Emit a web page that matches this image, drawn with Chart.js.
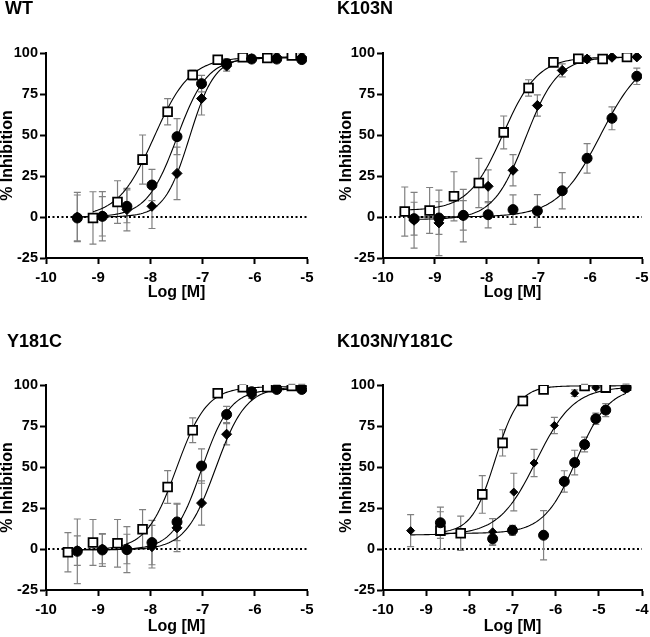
<!DOCTYPE html>
<html>
<head>
<meta charset="utf-8">
<script src="https://cdn.jsdelivr.net/npm/chart.js@4.4.0/dist/chart.umd.min.js"></script>
<style>
  html, body { margin: 0; padding: 0; background: #fff; }
  #wrap { position: relative; width: 650px; height: 637px; }
  canvas { position: absolute; }
</style>
</head>
<body>
<div id="wrap">
  <canvas id="pWT" width="325" height="318" style="left:0;top:0"></canvas>
  <canvas id="pK103N" width="325" height="318" style="left:325px;top:0"></canvas>
  <canvas id="pY181C" width="325" height="320" style="left:0;top:317px"></canvas>
  <canvas id="pDouble" width="325" height="320" style="left:325px;top:317px"></canvas>
</div>
<script>
// panel titles
const panelTitles = ['WT', 'K103N', 'Y181C', 'K103N/Y181C'];

// log concentrations (M)
const doseA = [-9.40, -8.92, -8.45, -7.97, -7.49, -7.02, -6.54, -6.06, -5.58, -5.10];
const doseB = [-9.58, -9.10, -8.63, -8.15, -7.67, -7.19, -6.71, -6.23, -5.76, -5.29];

// WT
const wtCircle = [-0.6, 0.4, 6.5, 19.5, 49, 81.3, 93.5, 96.3, 96.3, 96];
const wtCircleErr = [14, 12, 10, 9.5, 11, 5, 3, 2, 2, 2];
const wtDiamond = [0, 0.5, 4.5, 6.5, 26.6, 72.2, 92, 96.5, 97.5, 97.5];
const wtDiamondErr = [15, 15, 13, 13.5, 16, 10, 3, 2, 2, 2];
const wtSquare = [null, -0.6, 9.1, 35, 64.2, 86.6, 95.9, 97.4, 97, 98.5];
const wtSquareErr = [0, 16, 13, 15, 8, 3, 2, 2, 2, 1];

// K103N
const knCircle = [-1, -0.6, 1, 1.4, 4.5, 3.7, 16, 35.8, 60.2, 85.8];
const knCircleErr = [10, 10, 9, 8, 9, 10, 11, 9, 7, 5];
const knDiamond = [-2, -3.6, 0.8, 18.7, 28.5, 68, 89.4, 96.3, 97.4, 97.6];
const knDiamondErr = [17, 20, 16, 10, 9.5, 6.5, 4, 2, 1, 1];
const knSquare = [3.3, 4, 12.6, 20.7, 51.6, 78.7, 94.3, 96.5, 96.3, 97.6];
const knSquareErr = [15, 14, 15, 15, 10, 5, 2, 2, 2, 1];

// Y181C
const ycCircle = [-1.4, -0.6, -0.4, 3.9, 16.5, 50.6, 82, 95.9, 97.3, 97.3];
const ycCircleErr = [19.7, 10, 14, 13.5, 11.4, 10.5, 5, 2, 1.5, 1.5];
const ycDiamond = [-1, 0, 0, 1.4, 12.9, 28, 70, 93.9, 99, 99.4];
const ycDiamondErr = [9, 9, 9, 13, 14.5, 13.5, 6.5, 2, 1, 1];
const ycSquare = [-2, 4, 3.5, 12, 37.8, 72.4, 95, 98.6, 98.6, 99.4];
const ycSquareErr = [12, 14, 14.5, 12, 10, 7.5, 2, 1.5, 1, 1];

// K103N/Y181C
const dmCircleDose = [-8.67, -7.46, -7.00, -6.28, -5.80, -5.56, -5.33, -5.07, -4.84, -4.37];
const dmCircle = [16, 6.2, 11.4, 8.4, 41.2, 52.7, 63.7, 79.4, 84.7, 98.4];
const dmCircleErr = [9.5, 4, 3, 15, 6.5, 7.5, 4.5, 3.5, 4, 1];
const dmDiamondDose = [-9.36, -7.46, -6.97, -6.50, -6.03, -5.56, -5.07, -4.37];
const dmDiamond = [11.2, 10.5, 34.7, 52.4, 75.3, 95, 98.4, 99];
const dmDiamondErr = [9.7, 8, 11.5, 8.3, 5, 2, 1, 1];
const dmSquareDose = [-8.67, -8.20, -7.70, -7.23, -6.76, -6.28, -5.33, -4.84, -4.37];
const dmSquare = [11.2, 9.6, 33.3, 64.7, 90.2, 97.3, 99.4, 98.4, 99.6];
const dmSquareErr = [11.5, 10.5, 11.5, 8, 2, 2, 1, 1, 1];

// fitted curve parameters: [bottom, top, logIC50, hill]
const wtFits = { circle: [0, 97, -7.49, 1.5], diamond: [0, 97.5, -7.25, 1.8], square: [0, 97.5, -7.93, 1.25] };
const knFits = { circle: [0, 100, -5.8, 1.05], diamond: [-1.5, 97.5, -7.25, 1.4], square: [4, 97.5, -7.68, 1.3] };
const ycFits = { circle: [-0.5, 97.5, -7.02, 1.6], diamond: [-0.5, 99, -6.75, 1.5], square: [-0.5, 99, -7.5, 1.5] };
const dmFits = { circle: [9.5, 99, -5.52, 1.15], diamond: [8.5, 99, -6.45, 1.0], square: [9.5, 99.5, -7.4, 1.6] };

const FONT = "'Liberation Sans', Arial, sans-serif";
const NARROW = "'Liberation Sans Narrow', 'Arial Narrow', 'Liberation Sans', sans-serif";

Chart.defaults.font.family = NARROW;
Chart.defaults.font.weight = 'bold';
Chart.defaults.font.size = 14;
Chart.defaults.color = '#000';

function pts(xs, ys) {
  const out = [];
  xs.forEach(function (x, i) { if (ys[i] !== null) out.push({ x: x, y: ys[i] }); });
  return out;
}

function curve(xs, ys, p) {
  const used = xs.filter(function (x, i) { return ys[i] !== null; });
  const lo = Math.min.apply(null, used), hi = Math.max.apply(null, used);
  const out = [];
  for (let i = 0; i <= 120; i++) {
    const x = lo + (hi - lo) * i / 120;
    out.push({ x: x, y: p[0] + (p[1] - p[0]) / (1 + Math.pow(10, (p[2] - x) * p[3])) });
  }
  return out;
}

const errorBars = {
  id: 'errorBars',
  beforeDatasetsDraw(chart) {
    const ctx = chart.ctx, y = chart.scales.y, a = chart.chartArea;
    ctx.save();
    ctx.beginPath();
    ctx.rect(a.left, a.top - 5, a.right - a.left + 5, a.bottom - a.top + 5);
    ctx.clip();
    ctx.strokeStyle = '#808080';
    ctx.lineWidth = 1.2;
    chart.data.datasets.forEach(function (ds, i) {
      if (!ds.errors) return;
      const meta = chart.getDatasetMeta(i);
      meta.data.forEach(function (el, j) {
        const v = ds.data[j].y, e = ds.errors[j];
        if (!e) return;
        const top = y.getPixelForValue(v + e), bot = y.getPixelForValue(v - e);
        ctx.beginPath();
        ctx.moveTo(el.x, top); ctx.lineTo(el.x, bot);
        ctx.moveTo(el.x - 3.5, top); ctx.lineTo(el.x + 3.5, top);
        ctx.moveTo(el.x - 3.5, bot); ctx.lineTo(el.x + 3.5, bot);
        ctx.stroke();
      });
    });
    ctx.restore();
  }
};

const zeroLine = {
  id: 'zeroLine',
  beforeDatasetsDraw(chart) {
    const ctx = chart.ctx, a = chart.chartArea;
    const y0 = chart.scales.y.getPixelForValue(0);
    ctx.save();
    ctx.strokeStyle = '#000';
    ctx.lineWidth = 2;
    ctx.setLineDash([2, 2.5]);
    ctx.beginPath();
    ctx.moveTo(a.left + 2, y0);
    ctx.lineTo(a.right, y0);
    ctx.stroke();
    ctx.restore();
  }
};

const panelTitle = {
  id: 'panelTitle',
  afterDraw(chart, args, opts) {
    const ctx = chart.ctx;
    ctx.save();
    ctx.font = 'bold 18px ' + FONT;
    ctx.fillStyle = '#000';
    ctx.textBaseline = 'middle';
    ctx.fillText(opts.text, opts.x, opts.y);
    ctx.restore();
  }
};

function makePanel(id, title, titlePos, xMax, series, fits, box) {
  const datasets = [];
  const styles = {
    circle: { pointStyle: 'circle', pointRadius: 5, backgroundColor: '#000', borderColor: '#000', borderWidth: 1 },
    diamond: { pointStyle: 'rectRot', pointRadius: box.diamond, backgroundColor: '#000', borderColor: '#000', borderWidth: 1 },
    square: { pointStyle: 'rect', pointRadius: 6.2, backgroundColor: '#fff', borderColor: '#000', borderWidth: 1.8 }
  };
  ['square', 'diamond', 'circle'].forEach(function (k) {
    const s = series[k];
    datasets.push({
      type: 'line', data: curve(s.x, s.y, fits[k]), borderColor: '#000', borderWidth: 1.1,
      pointRadius: 0, fill: false, order: 5
    });
  });
  ['square', 'diamond', 'circle'].forEach(function (k, idx) {
    const s = series[k];
    const d = pts(s.x, s.y);
    const errs = [];
    s.x.forEach(function (x, i) { if (s.y[i] !== null) errs.push(s.e[i]); });
    datasets.push(Object.assign({ type: 'scatter', data: d, errors: errs, order: 3 - idx, showLine: false }, styles[k]));
  });

  new Chart(document.getElementById(id), {
    type: 'scatter',
    data: { datasets: datasets },
    options: {
      responsive: false,
      animation: false,
      events: [],
      layout: { padding: { left: box.left, right: box.right, top: box.top, bottom: box.bottom } },
      plugins: {
        legend: { display: false },
        tooltip: { enabled: false },
        panelTitle: { text: title, x: titlePos[0], y: titlePos[1] }
      },
      scales: {
        x: {
          type: 'linear', min: -10, max: xMax,
          border: { display: true, color: '#000', width: 2 },
          grid: { display: true, drawOnChartArea: false, drawTicks: true, tickLength: 6, tickWidth: 2, tickColor: '#000' },
          ticks: { stepSize: 1, color: '#000', padding: 5, maxRotation: 0, font: { family: NARROW, size: 15, weight: 'bold' } },
          title: { display: true, text: 'Log [M]', color: '#000', padding: { top: 0, bottom: 0 }, font: { family: NARROW, size: 16, weight: 'bold', lineHeight: 1 } },
          afterFit: function (s) { s.height = box.xh; s.paddingLeft = 0; s.paddingRight = 0; }
        },
        y: {
          type: 'linear', min: -25, max: 100,
          border: { display: true, color: '#000', width: 2 },
          grid: { display: true, drawOnChartArea: false, drawTicks: true, tickLength: 6, tickWidth: 2, tickColor: '#000' },
          ticks: { stepSize: 25, color: '#000', padding: 2, font: { family: NARROW, size: 14.5, weight: 'bold' } },
          title: { display: true, text: '% Inhibition', color: '#000', padding: { top: 0, bottom: 0 }, font: { family: FONT, size: 16, weight: 'bold', lineHeight: 1 } },
          afterFit: function (s) { s.width = box.yw; s.paddingTop = 0; s.paddingBottom = 0; }
        }
      }
    },
    plugins: [zeroLine, errorBars, panelTitle]
  });
}

makePanel('pWT', panelTitles[0], [5, 9], -5, {
  circle: { x: doseA, y: wtCircle, e: wtCircleErr },
  diamond: { x: doseA, y: wtDiamond, e: wtDiamondErr },
  square: { x: doseB, y: wtSquare, e: wtSquareErr }
}, wtFits, { left: 0, right: 18, top: 53, bottom: 17, xh: 43, yw: 46, diamond: 5 });

makePanel('pK103N', panelTitles[1], [12, 9], -5, {
  circle: { x: doseA, y: knCircle, e: knCircleErr },
  diamond: { x: doseA, y: knDiamond, e: knDiamondErr },
  square: { x: doseB, y: knSquare, e: knSquareErr }
}, knFits, { left: 14, right: 6, top: 53, bottom: 17, xh: 43, yw: 44, diamond: 5 });

makePanel('pY181C', panelTitles[2], [7, 25], -5, {
  circle: { x: doseA, y: ycCircle, e: ycCircleErr },
  diamond: { x: doseA, y: ycDiamond, e: ycDiamondErr },
  square: { x: doseB, y: ycSquare, e: ycSquareErr }
}, ycFits, { left: 0, right: 18, top: 68, bottom: 2, xh: 45, yw: 46, diamond: 5 });

makePanel('pDouble', panelTitles[3], [12, 25], -4, {
  circle: { x: dmCircleDose, y: dmCircle, e: dmCircleErr },
  diamond: { x: dmDiamondDose, y: dmDiamond, e: dmDiamondErr },
  square: { x: dmSquareDose, y: dmSquare, e: dmSquareErr }
}, dmFits, { left: 14, right: 6, top: 68, bottom: 2, xh: 45, yw: 44, diamond: 4 });
</script>
</body>
</html>
